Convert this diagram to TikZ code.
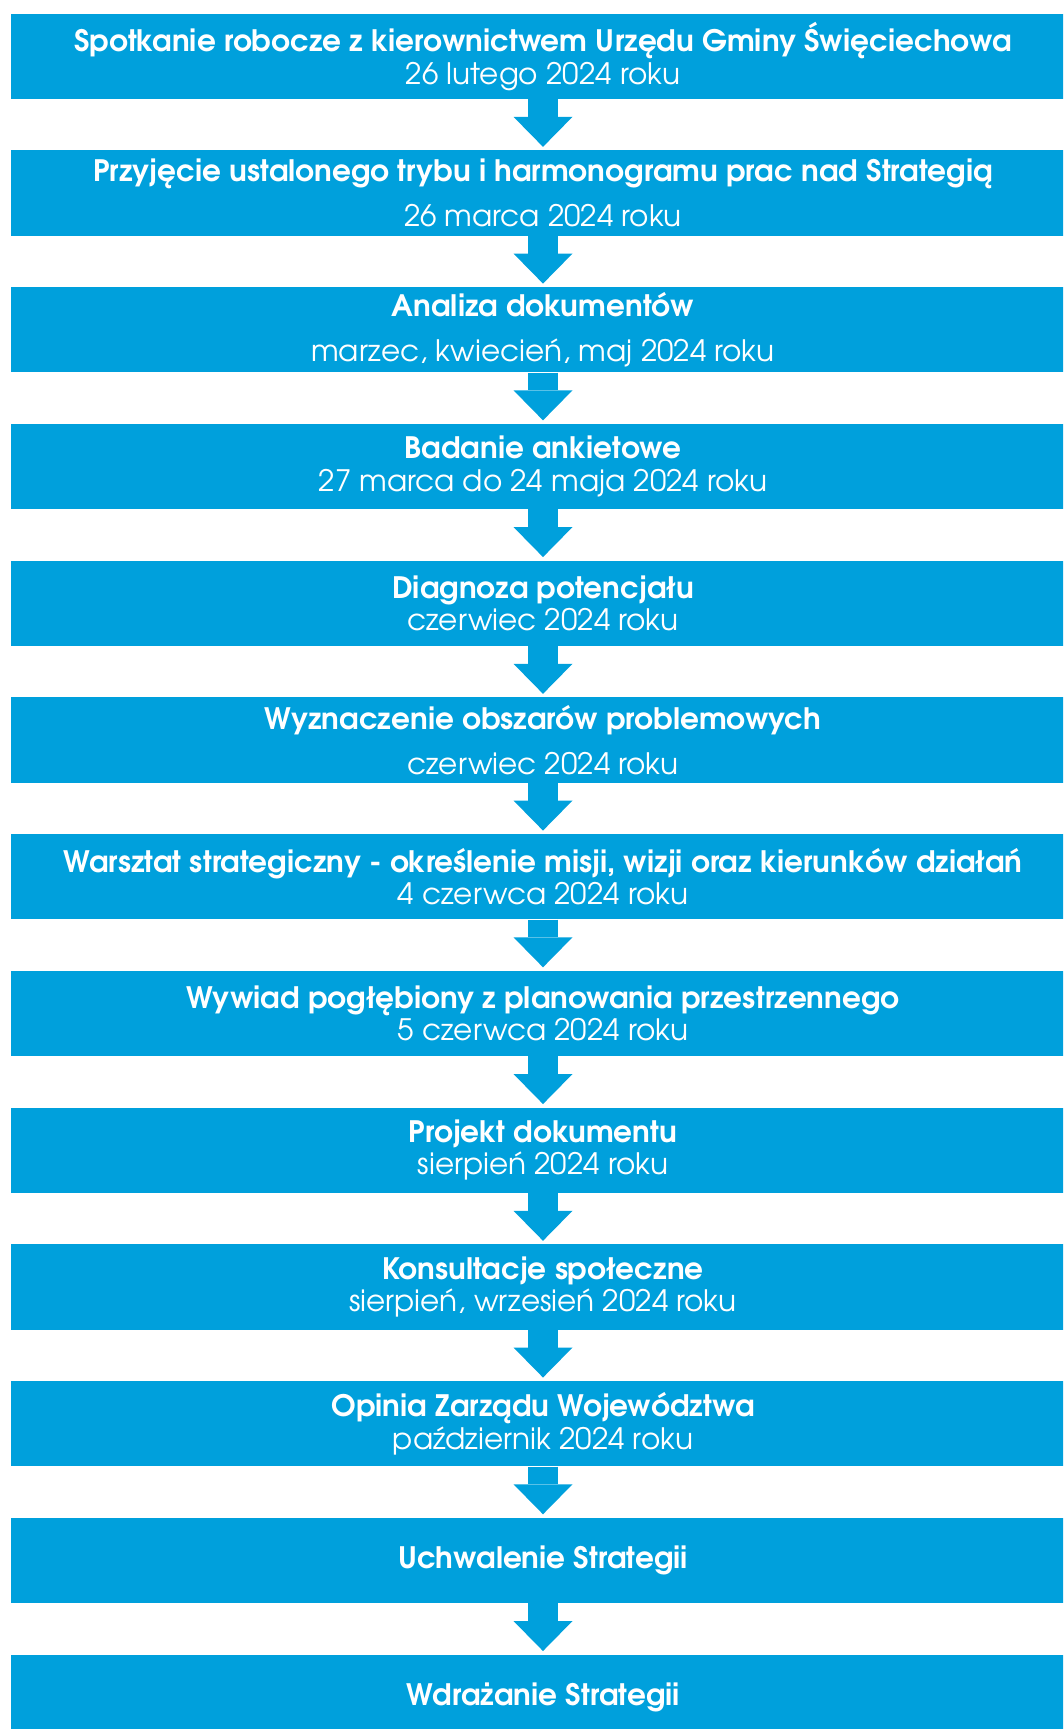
\documentclass[tikz,border=0pt]{standalone}
\usepackage{fontspec}
\setmainfont{TeX Gyre Adventor}
\usetikzlibrary{positioning,arrows.meta}
\definecolor{etapblue}{HTML}{00A0DC}
\tikzset{
  etap/.style={fill=etapblue, text=white, minimum width=26.6cm, minimum height=2.1325cm,
    inner sep=0pt, align=center, font=\fontsize{21}{23.2}\selectfont},
  krok/.style={etapblue, line width=0.75cm,
    -{Triangle[width=1.475cm,length=0.75cm,line width=0pt]}, shorten >=0.08cm}
}
\begin{document}
\begin{tikzpicture}[node distance=1.272cm]
\useasboundingbox (0,0) rectangle (26.575,-43.225);
\clip (0,0) rectangle (26.575,-43.225);
\node[etap, anchor=north] (spotkanie) at (13.575,-0.3325)
  {\textbf{Spotkanie robocze z kierownictwem Urzędu Gminy Święciechowa}\\26 lutego 2024 roku};
\node[etap, below=of spotkanie] (przyjecie)
  {\textbf{Przyjęcie ustalonego trybu i harmonogramu prac nad Strategią}\\[9pt]26 marca 2024 roku};
\node[etap, below=of przyjecie] (analiza)
  {\textbf{Analiza dokumentów}\\[9pt]marzec, kwiecień, maj 2024 roku};
\node[etap, below=of analiza] (badanie)
  {\textbf{Badanie ankietowe}\\27 marca do 24 maja 2024 roku};
\node[etap, below=of badanie] (diagnoza)
  {\textbf{Diagnoza potencjału}\\czerwiec 2024 roku};
\node[etap, below=of diagnoza] (obszary)
  {\textbf{Wyznaczenie obszarów problemowych}\\[9pt]czerwiec 2024 roku};
\node[etap, below=of obszary] (warsztat)
  {\textbf{Warsztat strategiczny - określenie misji, wizji oraz kierunków działań}\\4 czerwca 2024 roku};
\node[etap, below=of warsztat] (wywiad)
  {\textbf{Wywiad pogłębiony z planowania przestrzennego}\\5 czerwca 2024 roku};
\node[etap, below=of wywiad] (projekt)
  {\textbf{Projekt dokumentu}\\sierpień 2024 roku};
\node[etap, below=of projekt] (konsultacje)
  {\textbf{Konsultacje społeczne}\\sierpień, wrzesień 2024 roku};
\node[etap, below=of konsultacje] (opinia)
  {\textbf{Opinia Zarządu Województwa}\\październik 2024 roku};
\node[etap, below=of opinia] (uchwalenie)
  {\textbf{Uchwalenie Strategii}};
\node[etap, below=of uchwalenie] (wdrazanie)
  {\textbf{Wdrażanie Strategii}};
% strzalki
\draw[krok] (spotkanie) -- (przyjecie);
\draw[krok] (przyjecie) -- (analiza);
\draw[krok] (analiza) -- (badanie);
\draw[krok] (badanie) -- (diagnoza);
\draw[krok] (diagnoza) -- (obszary);
\draw[krok] (obszary) -- (warsztat);
\draw[krok] (warsztat) -- (wywiad);
\draw[krok] (wywiad) -- (projekt);
\draw[krok] (projekt) -- (konsultacje);
\draw[krok] (konsultacje) -- (opinia);
\draw[krok] (opinia) -- (uchwalenie);
\draw[krok] (uchwalenie) -- (wdrazanie);
\end{tikzpicture}
\end{document}
